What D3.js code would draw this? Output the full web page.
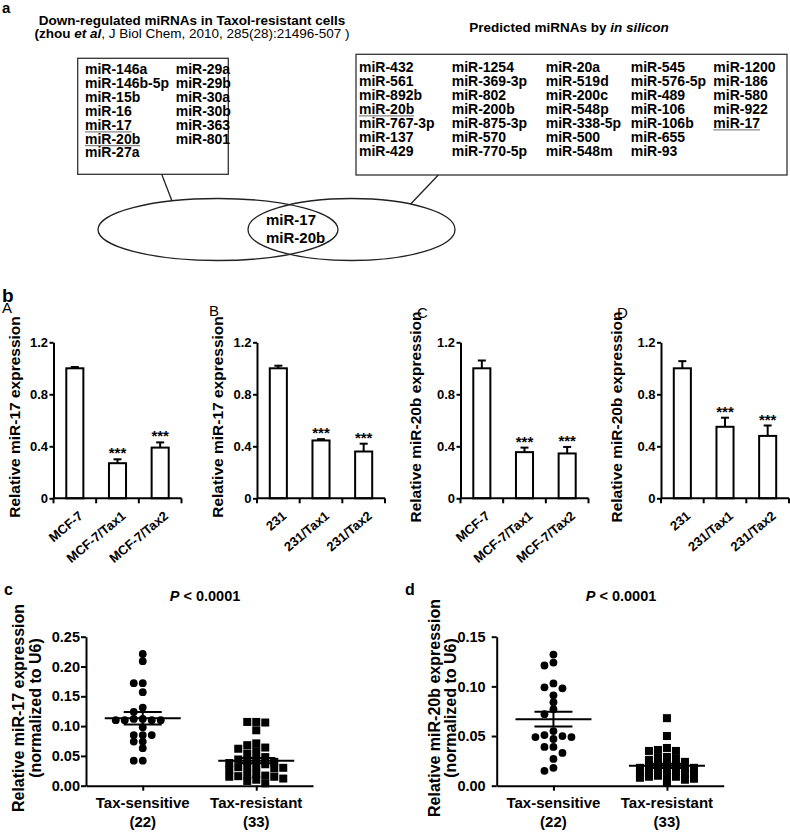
<!DOCTYPE html>
<html><head><meta charset="utf-8">
<script src="https://cdn.jsdelivr.net/npm/d3@7"></script>
<style>
body{margin:0;background:#fff;}
svg{display:block;font-family:"Liberation Sans",Arial,Helvetica,sans-serif;}
</style></head><body>
<svg id="fig" width="790" height="833"></svg>
<script>
// ---------------- DATA ----------------
const zhouTitle = "Down-regulated miRNAs in Taxol-resistant cells";
const zhouRefBold = "(zhou ";
const zhouRefItalic = "et al";
const zhouRefRest = ", J Biol Chem, 2010, 285(28):21496-507 )";
const predictedTitle = "Predicted miRNAs by ";
const predictedTitleItalic = "in silicon";
const zhouList = ["miR-146a","miR-146b-5p","miR-15b","miR-16","miR-17","miR-20b","miR-27a",
  "miR-29a","miR-29b","miR-30a","miR-30b","miR-363","miR-801"];
const predictedList = ["miR-432","miR-561","miR-892b","miR-20b","miR-767-3p","miR-137","miR-429",
  "miR-1254","miR-369-3p","miR-802","miR-200b","miR-875-3p","miR-570","miR-770-5p",
  "miR-20a","miR-519d","miR-200c","miR-548p","miR-338-5p","miR-500","miR-548m",
  "miR-545","miR-576-5p","miR-489","miR-106","miR-106b","miR-655","miR-93",
  "miR-1200","miR-186","miR-580","miR-922","miR-17"];
const sharedMiRNAs = ["miR-17","miR-20b"];

const cellsMCF = ["MCF-7","MCF-7/Tax1","MCF-7/Tax2"];
const cells231 = ["231","231/Tax1","231/Tax2"];
const miR17MCF = [1.00, 0.27, 0.39];
const miR17MCFErr = [0.01, 0.03, 0.04];
const miR17_231 = [1.00, 0.445, 0.36];
const miR17_231Err = [0.02, 0.01, 0.06];
const miR20bMCF = [1.00, 0.355, 0.345];
const miR20bMCFErr = [0.06, 0.035, 0.05];
const miR20b_231 = [1.00, 0.55, 0.48];
const miR20b_231Err = [0.055, 0.07, 0.08];
const barStars = ["", "***", "***"];
const barTicks = [0, 0.4, 0.8, 1.2];
const barTickLabels = ["0", "0.4", "0.8", "1.2"];

const groups = ["Tax-sensitive","Tax-resistant"];
const groupN = ["(22)","(33)"];
const miR17Sensitive = [0.221,0.209,0.172,0.172,0.157,0.131,0.124,0.112,0.110,0.110,0.110,0.110,0.112,
  0.098,0.085,0.085,0.085,0.074,0.074,0.063,0.042,0.042];
const miR17Resistant = [0.107,0.106,0.107,0.093,0.068,0.071,0.062,0.058,0.064,0.054,0.045,0.048,0.042,
  0.040,0.038,0.044,0.036,0.031,0.030,0.032,0.029,0.027,0.031,0.018,0.015,0.016,0.020,0.012,0.015,
  0.010,0.017,0.004,0.008];
const miR17Mean = [0.113, 0.042];
const miR17Sem = [0.0105, 0.0045];
const miR20bSensitive = [0.132,0.124,0.121,0.103,0.098,0.099,0.091,0.084,0.077,0.072,0.055,0.051,0.050,
  0.049,0.049,0.047,0.039,0.039,0.033,0.027,0.015,0.018];
const miR20bResistant = [0.068,0.050,0.038,0.035,0.035,0.036,0.029,0.028,0.027,0.026,0.024,0.022,0.021,
  0.020,0.019,0.018,0.018,0.017,0.016,0.015,0.014,0.013,0.012,0.012,0.011,0.010,0.010,0.009,0.009,
  0.008,0.007,0.006,0.003];
const miR20bMean = [0.067, 0.020];
const miR20bSem = [0.0075, 0.0022];
const miR17Ticks = [0, 0.05, 0.10, 0.15, 0.20, 0.25];
const miR20bTicks = [0, 0.05, 0.10, 0.15];
const pLabel = "P";
const pValueText = " < 0.0001";

// ---------------- DRAWING ----------------
const svg = d3.select("#fig");
svg.append("rect").attr("width",790).attr("height",833).attr("fill","#fff");

function label(x, y, s, size, weight, opts = {}) {
  const t = svg.append("text").attr("x", x).attr("y", y).attr("font-size", size)
    .attr("font-weight", weight || "bold").attr("fill", "#000").text(s);
  if (opts.anchor) t.attr("text-anchor", opts.anchor);
  if (opts.style) t.attr("font-style", opts.style);
  return t;
}

// ===== panel a =====
label(2, 12.5, "a", 15, "bold");
label(192, 24.5, zhouTitle, 13.5, "bold", {anchor:"middle"});
const t2 = svg.append("text").attr("x",192).attr("y",38).attr("text-anchor","middle").attr("font-size",13.5);
t2.append("tspan").attr("font-weight","bold").text(zhouRefBold);
t2.append("tspan").attr("font-weight","bold").attr("font-style","italic").text(zhouRefItalic);
t2.append("tspan").attr("font-weight","normal").text(zhouRefRest);
const t3 = svg.append("text").attr("x",569).attr("y",31.5).attr("text-anchor","middle").attr("font-size",13.5).attr("font-weight","bold");
t3.append("tspan").text(predictedTitle);
t3.append("tspan").attr("font-style","italic").text(predictedTitleItalic);

svg.append("rect").attr("x",77.7).attr("y",58.3).attr("width",150.6).attr("height",116)
  .attr("fill","none").attr("stroke","#333").attr("stroke-width",1.3);
svg.append("rect").attr("x",356).attr("y",54.3).attr("width",431).attr("height",120.7)
  .attr("fill","none").attr("stroke","#333").attr("stroke-width",1.3);

function listBlock(list, colX, y0, dy) {
  list.forEach((m, i) => {
    const col = Math.floor(i / 7), row = i % 7;
    const x = colX[col], y = y0 + row * dy;
    const t = label(x, y, m, 14, "bold");
    if (sharedMiRNAs.includes(m)) {
      const w = t.node().getComputedTextLength();
      svg.append("line").attr("x1",x).attr("x2",x+w).attr("y1",y+2.2).attr("y2",y+2.2)
        .attr("stroke","#888").attr("stroke-width",1.3);
    }
  });
}
listBlock(zhouList, [85, 175.7], 74, 13.9);
listBlock(predictedList, [359, 451.7, 545.7, 630.7, 713.3], 71.7, 14);

// connectors and Venn ellipses
svg.append("line").attr("x1",161.7).attr("y1",174.3).attr("x2",172).attr("y2",201)
  .attr("stroke","#222").attr("stroke-width",1.3);
svg.append("line").attr("x1",438.3).attr("y1",175).attr("x2",410.7).attr("y2",204)
  .attr("stroke","#222").attr("stroke-width",1.3);
svg.append("ellipse").attr("cx",218).attr("cy",229.5).attr("rx",120).attr("ry",31)
  .attr("fill","none").attr("stroke","#222").attr("stroke-width",1.3);
svg.append("ellipse").attr("cx",351.5).attr("cy",229.5).attr("rx",103.5).attr("ry",31)
  .attr("fill","none").attr("stroke","#222").attr("stroke-width",1.3);
label(266, 225, sharedMiRNAs[0], 15, "bold");
label(266, 243.3, sharedMiRNAs[1], 15, "bold");

// ===== panel b =====
label(2, 301.5, "b", 19, "bold");
const barY = d3.scaleLinear().domain([0, 1.2]).range([498.3, 342.3]);

function styleAxis(g, fontSize) {
  g.selectAll("path.domain").attr("stroke","#000").attr("stroke-width",2);
  g.selectAll(".tick line").attr("stroke","#000").attr("stroke-width",2);
  g.selectAll(".tick text").attr("font-size",fontSize).attr("font-weight","bold").attr("fill","#000")
    .attr("font-family",'"Liberation Sans",Arial,sans-serif');
}

function barPanel(cfg) {
  const y = barY;
  const x = d3.scaleBand().domain(cfg.cats).range([cfg.x0, cfg.x0 + 128]).paddingInner(0.6).paddingOuter(0.3);
  const g = svg.append("g");
  const cx = c => x(c) + x.bandwidth() / 2;
  g.selectAll("rect.bar").data(cfg.vals).join("rect").attr("class","bar")
    .attr("x",(d,i)=>x(cfg.cats[i])).attr("y",d=>y(d)).attr("width",x.bandwidth())
    .attr("height",d=>y(0)-y(d)).attr("fill","#fff").attr("stroke","#000").attr("stroke-width",2);
  cfg.vals.forEach((v, i) => {
    const c = cx(cfg.cats[i]), top = y(v + cfg.errs[i]);
    g.append("line").attr("x1",c).attr("x2",c).attr("y1",y(v)).attr("y2",top).attr("stroke","#000").attr("stroke-width",2);
    g.append("line").attr("x1",c-4).attr("x2",c+4).attr("y1",top).attr("y2",top).attr("stroke","#000").attr("stroke-width",2);
    if (barStars[i]) g.append("text").attr("x",c).attr("y",top-1).attr("text-anchor","middle")
      .attr("font-size",15).attr("font-weight","bold").text(barStars[i]);
  });
  const ya = g.append("g").attr("transform",`translate(${cfg.x0},0)`)
    .call(d3.axisLeft(y).tickValues(barTicks).tickFormat((d,i)=>barTickLabels[i]).tickSize(4).tickPadding(1.5).tickSizeOuter(0));
  styleAxis(ya, 13);
  const bounds = [cfg.x0].concat(cfg.cats.map(c => x(c) + x.bandwidth() + x.step() * x.paddingInner() / 2));
  g.append("line").attr("x1",cfg.x0).attr("x2",cfg.x0+128).attr("y1",y(0)).attr("y2",y(0)).attr("stroke","#000").attr("stroke-width",2);
  bounds.forEach(b => g.append("line").attr("x1",b).attr("x2",b).attr("y1",y(0)).attr("y2",y(0)+5).attr("stroke","#000").attr("stroke-width",2));
  g.selectAll("text.xl").data(cfg.cats).join("text").attr("class","xl")
    .attr("transform", c => `translate(${cx(c)+9},${y(0)+19}) rotate(-40)`)
    .attr("text-anchor","end").attr("font-size",13).attr("font-weight","bold").text(c => c);
  g.append("text").attr("transform",`translate(${cfg.labX},417) rotate(-90)`).attr("text-anchor","middle")
    .attr("font-size",15.5).attr("font-weight","bold").text(cfg.ylab);
  label(cfg.letterX, cfg.letterY, cfg.letter, 15, "normal");
}

barPanel({x0:53.5, cats:cellsMCF, vals:miR17MCF, errs:miR17MCFErr, ylab:"Relative miR-17 expression", labX:20, letter:"A", letterX:2, letterY:313});
barPanel({x0:257, cats:cells231, vals:miR17_231, errs:miR17_231Err, ylab:"Relative miR-17 expression", labX:223, letter:"B", letterX:209, letterY:316});
barPanel({x0:460.5, cats:cellsMCF, vals:miR20bMCF, errs:miR20bMCFErr, ylab:"Relative miR-20b expression", labX:421, letter:"C", letterX:417, letterY:318});
barPanel({x0:661, cats:cells231, vals:miR20b_231, errs:miR20b_231Err, ylab:"Relative miR-20b expression", labX:622, letter:"D", letterX:617, letterY:318});

// ===== panels c, d =====
function swarm(values, y, minGap) {
  const pts = values.map(v => ({v, py: y(v)})).sort((a, b) => b.v - a.v);
  const placed = [];
  const order = [0, -1, 1, -2, 2, -3, 3];
  pts.forEach(p => {
    let col = null;
    for (const c of order) {
      if (placed.every(q => q.col !== c || Math.abs(q.py - p.py) >= minGap)) { col = c; break; }
    }
    if (col === null) {
      let best = -1;
      order.forEach(c => {
        const dmin = d3.min(placed.filter(q => q.col === c), q => Math.abs(q.py - p.py)) ?? 99;
        if (dmin > best) { best = dmin; col = c; }
      });
    }
    p.col = col; placed.push(p);
  });
  return placed;
}

function scatterPanel(cfg) {
  const y = d3.scaleLinear().domain([0, cfg.max]).range([785.7, 636.7]);
  const x = d3.scalePoint().domain(groups).range([cfg.x0, cfg.x0 + 227]).padding(0.5);
  const g = svg.append("g");
  const sens = swarm(cfg.sens, y, 6);
  g.selectAll("circle.s").data(sens).join("circle").attr("class","s")
    .attr("cx", d => x(groups[0]) + d.col * 9).attr("cy", d => d.py).attr("r", 3.9).attr("fill","#000");
  const res = swarm(cfg.res, y, 6);
  g.selectAll("rect.r").data(res).join("rect").attr("class","r")
    .attr("x", d => x(groups[1]) + d.col * 9 - 4).attr("y", d => d.py - 4).attr("width", 8).attr("height", 8).attr("fill","#000");
  groups.forEach((gr, i) => {
    const c = x(gr), m = cfg.mean[i], s = cfg.sem[i];
    g.append("line").attr("x1",c-38).attr("x2",c+38).attr("y1",y(m)).attr("y2",y(m)).attr("stroke","#000").attr("stroke-width",2);
    g.append("line").attr("x1",c).attr("x2",c).attr("y1",y(m-s)).attr("y2",y(m+s)).attr("stroke","#000").attr("stroke-width",2);
    [m-s, m+s].forEach(v => g.append("line").attr("x1",c-19).attr("x2",c+19).attr("y1",y(v)).attr("y2",y(v)).attr("stroke","#000").attr("stroke-width",2));
  });
  const ya = g.append("g").attr("transform",`translate(${cfg.x0},0)`)
    .call(d3.axisLeft(y).tickValues(cfg.ticks).tickFormat(d3.format(".2f")).tickSize(5).tickPadding(cfg.tickPad).tickSizeOuter(0));
  styleAxis(ya, 14.5);
  const xa = g.append("g").attr("transform",`translate(0,${y(0)})`)
    .call(d3.axisBottom(x).tickSize(5).tickSizeOuter(0).tickFormat(""));
  styleAxis(xa, 14.5);
  groups.forEach((gr, i) => {
    g.append("text").attr("x",x(gr)).attr("y",808).attr("text-anchor","middle").attr("font-size",15).attr("font-weight","bold").text(gr);
    g.append("text").attr("x",x(gr)).attr("y",827).attr("text-anchor","middle").attr("font-size",15).attr("font-weight","bold").text(groupN[i]);
  });
  g.append("text").attr("transform",`translate(${cfg.lab1},708) rotate(-90)`).attr("text-anchor","middle")
    .attr("font-size",16).attr("font-weight","bold").text(cfg.ylab);
  g.append("text").attr("transform",`translate(${cfg.lab2},708) rotate(-90)`).attr("text-anchor","middle")
    .attr("font-size",16).attr("font-weight","bold").text("(normalized to U6)");
  const p = g.append("text").attr("x",cfg.pX).attr("y",601).attr("text-anchor","middle").attr("font-size",14.5).attr("font-weight","bold");
  p.append("tspan").attr("font-style","italic").text(pLabel);
  p.append("tspan").text(pValueText);
  label(cfg.letterX, 595, cfg.letter, 16, "bold");
}

scatterPanel({x0:86, max:0.25, ticks:miR17Ticks, tickPad:1, sens:miR17Sensitive, res:miR17Resistant, mean:miR17Mean, sem:miR17Sem,
  ylab:"Relative miR-17 expression", lab1:24, lab2:41, pX:205, letter:"c", letterX:4});
scatterPanel({x0:496.7, max:0.15, ticks:miR20bTicks, tickPad:6, sens:miR20bSensitive, res:miR20bResistant, mean:miR20bMean, sem:miR20bSem,
  ylab:"Relative miR-20b expression", lab1:440, lab2:455.5, pX:621, letter:"d", letterX:405});
</script>
</body></html>
